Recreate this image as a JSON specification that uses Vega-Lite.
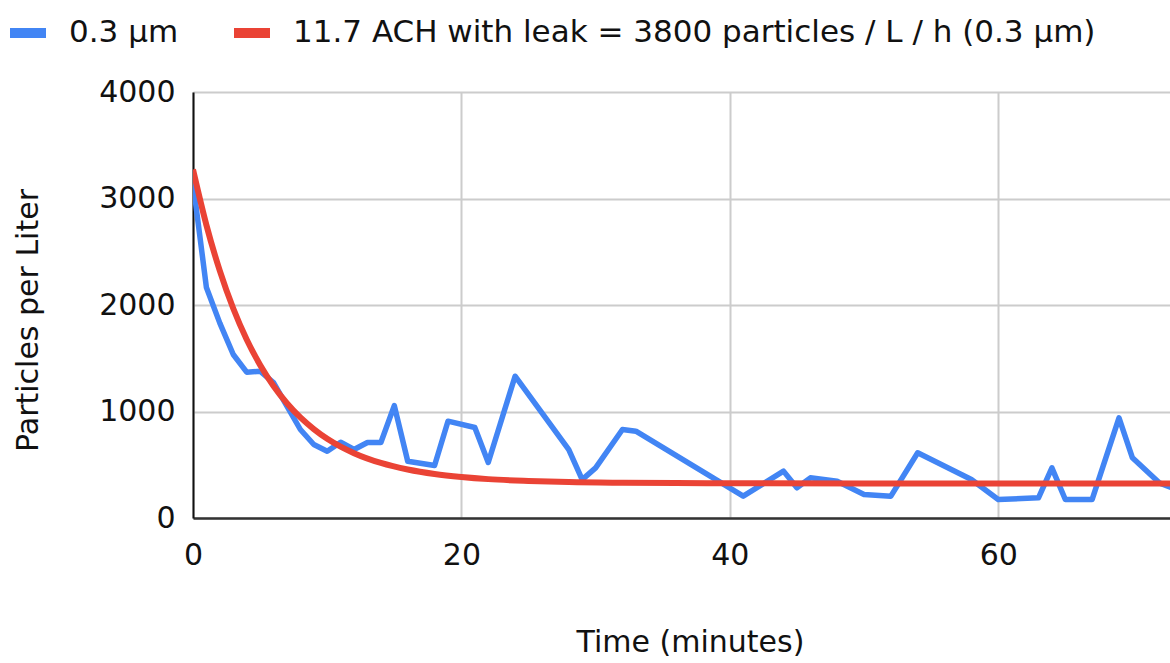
{
  "$schema": "https://vega.github.io/schema/vega-lite/v6.json",
  "width": 977,
  "height": 426,
  "autosize": "none",
  "padding": {"left": 193, "top": 92, "right": 0, "bottom": 145},
  "background": "white",
  "config": {
    "view": {"stroke": null},
    "font": "DejaVu Sans",
    "axis": {
      "labelFont": "DejaVu Sans",
      "titleFont": "DejaVu Sans",
      "labelFontSize": 30,
      "titleFontSize": 30,
      "labelColor": "#111111",
      "titleColor": "#111111",
      "titleFontWeight": "normal",
      "gridColor": "#cccccc",
      "gridWidth": 2,
      "ticks": false,
      "domainColor": "#333333",
      "domainWidth": 2.5
    },
    "legend": {
      "labelFont": "DejaVu Sans",
      "labelFontSize": 31,
      "labelColor": "#111111",
      "labelLimit": 0
    }
  },
  "datasets": {
    "measured": [
      {"t": 0, "v": 3150, "series": "0.3 µm"},
      {"t": 1, "v": 2164, "series": "0.3 µm"},
      {"t": 2, "v": 1830, "series": "0.3 µm"},
      {"t": 3, "v": 1535, "series": "0.3 µm"},
      {"t": 4, "v": 1369, "series": "0.3 µm"},
      {"t": 5, "v": 1378, "series": "0.3 µm"},
      {"t": 6, "v": 1272, "series": "0.3 µm"},
      {"t": 7, "v": 1050, "series": "0.3 µm"},
      {"t": 8, "v": 831, "series": "0.3 µm"},
      {"t": 9, "v": 690, "series": "0.3 µm"},
      {"t": 10, "v": 627, "series": "0.3 µm"},
      {"t": 11, "v": 712, "series": "0.3 µm"},
      {"t": 12, "v": 643, "series": "0.3 µm"},
      {"t": 13, "v": 709, "series": "0.3 µm"},
      {"t": 14, "v": 709, "series": "0.3 µm"},
      {"t": 15, "v": 1055, "series": "0.3 µm"},
      {"t": 16, "v": 533, "series": "0.3 µm"},
      {"t": 18, "v": 493, "series": "0.3 µm"},
      {"t": 19, "v": 909, "series": "0.3 µm"},
      {"t": 21, "v": 850, "series": "0.3 µm"},
      {"t": 22, "v": 521, "series": "0.3 µm"},
      {"t": 24, "v": 1331, "series": "0.3 µm"},
      {"t": 28, "v": 643, "series": "0.3 µm"},
      {"t": 29, "v": 361, "series": "0.3 µm"},
      {"t": 30, "v": 471, "series": "0.3 µm"},
      {"t": 32, "v": 831, "series": "0.3 µm"},
      {"t": 33, "v": 815, "series": "0.3 µm"},
      {"t": 41, "v": 205, "series": "0.3 µm"},
      {"t": 44, "v": 440, "series": "0.3 µm"},
      {"t": 45, "v": 284, "series": "0.3 µm"},
      {"t": 46, "v": 377, "series": "0.3 µm"},
      {"t": 48, "v": 345, "series": "0.3 µm"},
      {"t": 50, "v": 221, "series": "0.3 µm"},
      {"t": 52, "v": 205, "series": "0.3 µm"},
      {"t": 54, "v": 612, "series": "0.3 µm"},
      {"t": 58, "v": 361, "series": "0.3 µm"},
      {"t": 60, "v": 174, "series": "0.3 µm"},
      {"t": 63, "v": 190, "series": "0.3 µm"},
      {"t": 64, "v": 471, "series": "0.3 µm"},
      {"t": 65, "v": 174, "series": "0.3 µm"},
      {"t": 67, "v": 174, "series": "0.3 µm"},
      {"t": 69, "v": 941, "series": "0.3 µm"},
      {"t": 70, "v": 565, "series": "0.3 µm"},
      {"t": 72, "v": 330, "series": "0.3 µm"},
      {"t": 73, "v": 280, "series": "0.3 µm"}
    ],
    "model": [
      {"t": 0, "v": 3272, "series": "11.7 ACH with leak = 3800 particles / L / h (0.3 µm)"},
      {"t": 1, "v": 2750, "series": "11.7 ACH with leak = 3800 particles / L / h (0.3 µm)"},
      {"t": 2, "v": 2320, "series": "11.7 ACH with leak = 3800 particles / L / h (0.3 µm)"},
      {"t": 3, "v": 1967, "series": "11.7 ACH with leak = 3800 particles / L / h (0.3 µm)"},
      {"t": 4, "v": 1676, "series": "11.7 ACH with leak = 3800 particles / L / h (0.3 µm)"},
      {"t": 5, "v": 1437, "series": "11.7 ACH with leak = 3800 particles / L / h (0.3 µm)"},
      {"t": 6, "v": 1240, "series": "11.7 ACH with leak = 3800 particles / L / h (0.3 µm)"},
      {"t": 7, "v": 1078, "series": "11.7 ACH with leak = 3800 particles / L / h (0.3 µm)"},
      {"t": 8, "v": 944, "series": "11.7 ACH with leak = 3800 particles / L / h (0.3 µm)"},
      {"t": 9, "v": 835, "series": "11.7 ACH with leak = 3800 particles / L / h (0.3 µm)"},
      {"t": 10, "v": 744, "series": "11.7 ACH with leak = 3800 particles / L / h (0.3 µm)"},
      {"t": 11, "v": 670, "series": "11.7 ACH with leak = 3800 particles / L / h (0.3 µm)"},
      {"t": 12, "v": 609, "series": "11.7 ACH with leak = 3800 particles / L / h (0.3 µm)"},
      {"t": 14, "v": 517, "series": "11.7 ACH with leak = 3800 particles / L / h (0.3 µm)"},
      {"t": 16, "v": 455, "series": "11.7 ACH with leak = 3800 particles / L / h (0.3 µm)"},
      {"t": 18, "v": 413, "series": "11.7 ACH with leak = 3800 particles / L / h (0.3 µm)"},
      {"t": 20, "v": 385, "series": "11.7 ACH with leak = 3800 particles / L / h (0.3 µm)"},
      {"t": 22, "v": 365, "series": "11.7 ACH with leak = 3800 particles / L / h (0.3 µm)"},
      {"t": 25, "v": 348, "series": "11.7 ACH with leak = 3800 particles / L / h (0.3 µm)"},
      {"t": 28, "v": 337, "series": "11.7 ACH with leak = 3800 particles / L / h (0.3 µm)"},
      {"t": 32, "v": 331, "series": "11.7 ACH with leak = 3800 particles / L / h (0.3 µm)"},
      {"t": 36, "v": 328, "series": "11.7 ACH with leak = 3800 particles / L / h (0.3 µm)"},
      {"t": 40, "v": 326, "series": "11.7 ACH with leak = 3800 particles / L / h (0.3 µm)"},
      {"t": 50, "v": 325, "series": "11.7 ACH with leak = 3800 particles / L / h (0.3 µm)"},
      {"t": 60, "v": 325, "series": "11.7 ACH with leak = 3800 particles / L / h (0.3 µm)"},
      {"t": 73, "v": 325, "series": "11.7 ACH with leak = 3800 particles / L / h (0.3 µm)"}
    ]
  },
  "encoding": {
    "x": {
      "field": "t",
      "type": "quantitative",
      "scale": {"domain": [0, 72.8], "nice": false, "zero": true},
      "axis": {
        "values": [0, 20, 40, 60],
        "format": "d",
        "labelPadding": 22,
        "labelFlush": false,
        "title": "Time (minutes)",
        "titleBaseline": "alphabetic",
        "titleX": 497,
        "titleY": 133,
        "titleAnchor": null,
        "titleAlign": "center",
        "domainColor": "#333333",
        "domainWidth": 2.5
      }
    },
    "y": {
      "field": "v",
      "type": "quantitative",
      "scale": {"domain": [0, 4000], "nice": false},
      "axis": {
        "values": [0, 1000, 2000, 3000, 4000],
        "format": "d",
        "labelPadding": 18,
        "title": "Particles per Liter",
        "titleAngle": -90,
        "titleBaseline": "alphabetic",
        "titleX": -156,
        "titleY": 228,
        "titleAlign": "center",
        "domainColor": "#111111",
        "domainWidth": 2
      }
    },
    "color": {
      "field": "series",
      "type": "nominal",
      "scale": {
        "domain": ["0.3 µm", "11.7 ACH with leak = 3800 particles / L / h (0.3 µm)"],
        "range": ["#4285F4", "#EA4335"]
      },
      "legend": {
        "title": null,
        "orient": "none",
        "direction": "horizontal",
        "legendX": -188,
        "legendY": -82,
        "symbolType": "stroke",
        "symbolSize": 1296,
        "symbolStrokeWidth": 10,
        "labelOffset": 18,
        "columnPadding": 35,
        "padding": 0,
        "labelLimit": 0
      }
    }
  },
  "layer": [
    {
      "data": {"name": "measured"},
      "mark": {"type": "line", "strokeWidth": 5.5, "clip": true, "strokeJoin": "round"}
    },
    {
      "data": {"name": "model"},
      "mark": {"type": "line", "strokeWidth": 6, "clip": true, "interpolate": "monotone"}
    }
  ]
}
